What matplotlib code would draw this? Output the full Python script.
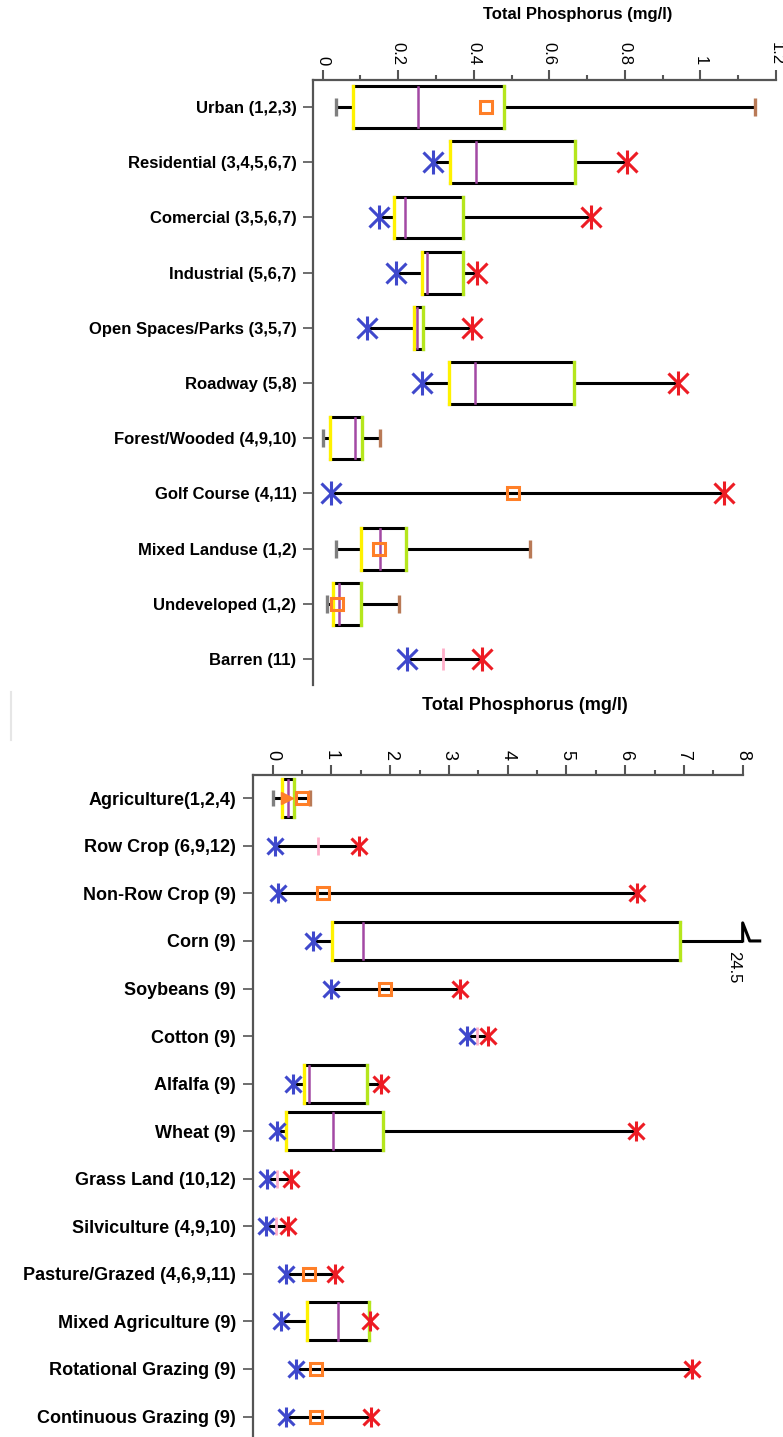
import numpy as np
import matplotlib
matplotlib.use('Agg')
import matplotlib.pyplot as plt
from matplotlib.patches import Rectangle
from matplotlib.lines import Line2D

plt.rcParams['font.family'] = ['Liberation Sans', 'DejaVu Sans']

nan = np.nan

# ---- top panel : urban / land use ----
labels_top = ['Urban (1,2,3)', 'Residential (3,4,5,6,7)', 'Comercial (3,5,6,7)',
              'Industrial (5,6,7)', 'Open Spaces/Parks (3,5,7)', 'Roadway (5,8)',
              'Forest/Wooded (4,9,10)', 'Golf Course (4,11)', 'Mixed Landuse (1,2)',
              'Undeveloped (1,2)', 'Barren (11)']
lo_top = [0.035, 0.293, 0.150, 0.193, 0.116, 0.264, 0.0, 0.022, 0.035, 0.011, 0.222]
lo_kind_top = ['cap', 'star', 'star', 'star', 'star', 'star', 'cap', 'star', 'cap', 'cap', 'star']
q1_top = [0.081, 0.338, 0.190, 0.262, 0.242, 0.335, 0.019, nan, 0.102, 0.028, nan]
med_top = [0.253, 0.406, 0.219, 0.275, 0.250, 0.403, 0.085, nan, 0.152, 0.044, 0.319]
q3_top = [0.480, 0.668, 0.371, 0.371, 0.265, 0.666, 0.104, nan, 0.220, 0.102, nan]
hi_top = [1.144, 0.805, 0.710, 0.408, 0.394, 0.940, 0.152, 1.062, 0.549, 0.201, 0.421]
hi_kind_top = ['cap', 'star', 'star', 'star', 'star', 'star', 'cap', 'star', 'cap', 'cap', 'star']
mean_top = [0.431, nan, nan, nan, nan, nan, nan, 0.503, 0.150, 0.037, nan]
tri_top = [nan] * 11
ticks_top = [0, 0.2, 0.4, 0.6, 0.8, 1, 1.2]
ticklabels_top = ['0', '0.2', '0.4', '0.6', '0.8', '1', '1.2']

# ---- bottom panel : agriculture ----
labels_bot = ['Agriculture(1,2,4)', 'Row Crop (6,9,12)', 'Non-Row Crop (9)', 'Corn (9)',
              'Soybeans (9)', 'Cotton (9)', 'Alfalfa (9)', 'Wheat (9)', 'Grass Land (10,12)',
              'Silviculture (4,9,10)', 'Pasture/Grazed (4,6,9,11)', 'Mixed Agriculture (9)',
              'Rotational Grazing (9)', 'Continuous Grazing (9)']
lo_bot = [0.0, 0.04, 0.096, 0.692, 0.992, 3.302, 0.351, 0.078, -0.09, -0.12, 0.221, 0.141, 0.397, 0.221]
lo_kind_bot = ['cap'] + ['star'] * 13
q1_bot = [0.153, nan, nan, 1.004, nan, nan, 0.538, 0.226, nan, nan, nan, 0.589, nan, nan]
med_bot = [0.255, 0.777, nan, 1.543, nan, 3.472, 0.618, 1.031, 0.078, 0.051, nan, 1.106, nan, nan]
q3_bot = [0.368, nan, nan, 6.933, nan, nan, 1.600, 1.872, nan, nan, nan, 1.645, nan, nan]
hi_bot = [0.635, 1.47, 6.196, 24.5, 3.188, 3.66, 1.843, 6.184, 0.306, 0.266, 1.06, 1.656, 7.142, 1.673]
hi_kind_bot = ['cap', 'star', 'star', 'break'] + ['star'] * 10
mean_bot = [0.493, nan, 0.85, nan, 1.911, nan, nan, nan, nan, nan, 0.618, nan, 0.732, 0.732]
tri_bot = [0.25] + [nan] * 13
ticks_bot = [0, 1, 2, 3, 4, 5, 6, 7, 8]
ticklabels_bot = ['0', '1', '2', '3', '4', '5', '6', '7', '8']

BLUE = '#3f48cc'
RED = '#ed1c24'
ORANGE = '#ff7f27'
GREY = '#7f7f7f'
BROWN = '#b97a57'
PINK = '#ffaec9'
PURPLE = '#a349a4'
YELLOW = '#fff200'
LIME = '#b5e61d'
AXC = '#555555'


def star(ax, x, y, color, ms):
    ax.plot(x, y, marker='x', color=color, ms=ms, mew=2.2, zorder=7, clip_on=False)
    ax.plot(x, y, marker='|', color=color, ms=ms * 1.25, mew=2.2, zorder=7, clip_on=False)


def draw_panel(ax, labels, lo, lo_kind, q1, med, q3, hi, hi_kind, mean, tri, box_h, ms):
    xmax = ax.get_xlim()[1]
    for i in range(len(labels)):
        y = i
        right = min(hi[i], xmax)
        ax.plot([lo[i], right], [y, y], color='black', lw=2.2, zorder=2, solid_capstyle='butt')
        if not np.isnan(q1[i]):
            y0, y1 = y - box_h / 2, y + box_h / 2
            ax.add_patch(Rectangle((q1[i], y0), q3[i] - q1[i], box_h,
                                   facecolor='white', edgecolor='none', zorder=3))
            ax.plot([q1[i], q3[i]], [y0, y0], color='black', lw=2.2, zorder=4)
            ax.plot([q1[i], q3[i]], [y1, y1], color='black', lw=2.2, zorder=4)
            ax.plot([q1[i], q1[i]], [y0, y1], color=YELLOW, lw=2.4, zorder=5)
            ax.plot([q3[i], q3[i]], [y0, y1], color=LIME, lw=2.4, zorder=5)
            ax.plot([med[i], med[i]], [y0 + 0.02, y1 - 0.02], color=PURPLE, lw=1.8, zorder=5)
        elif not np.isnan(med[i]):
            ax.plot(med[i], y, marker='|', color=PINK, ms=ms * 1.1, mew=2, zorder=5)

        if lo_kind[i] == 'cap':
            ax.plot(lo[i], y, marker='|', color=GREY, ms=ms * 0.95, mew=2.4, zorder=6)
        else:
            star(ax, lo[i], y, BLUE, ms)

        if hi_kind[i] == 'cap':
            ax.plot(hi[i], y, marker='|', color=BROWN, ms=ms * 0.95, mew=2.4, zorder=6)
        elif hi_kind[i] == 'star':
            star(ax, hi[i], y, RED, ms)
        else:
            # axis break for the value off the scale
            ax.plot([xmax, xmax, xmax + 0.12, xmax + 0.29], [y, y - 0.38, y, y],
                    color='black', lw=2.2, clip_on=False, zorder=2)
            ax.text(xmax - 0.16, y + 0.22, '%g' % hi[i], rotation=-90, ha='center', va='top',
                    fontsize=12)

        if not np.isnan(mean[i]):
            ax.plot(mean[i], y, marker='s', mfc='none', mec=ORANGE, ms=8, mew=2.2, zorder=6)
        if not np.isnan(tri[i]):
            ax.plot(tri[i], y, marker='>', color=ORANGE, ms=ms * 0.7, zorder=6)


def style_axes(ax, ticks, ticklabels, minor, labels, fs_tick, fs_lab):
    ax.xaxis.tick_top()
    ax.set_xticks(ticks)
    ax.set_xticklabels(ticklabels)
    ax.set_xticks(minor, minor=True)
    ax.set_yticks(np.arange(len(labels)))
    ax.set_yticklabels(labels, fontweight='bold', fontsize=fs_lab)
    ax.tick_params(axis='x', which='major', length=7, width=1.5, color=AXC, labelsize=fs_tick,
                   pad=4, labelrotation=-90)
    ax.tick_params(axis='x', which='minor', length=3.5, width=1.5, color=AXC)
    ax.tick_params(axis='y', length=7, width=1.2, color=AXC, pad=5)
    for s in ['right', 'bottom']:
        ax.spines[s].set_visible(False)
    for s in ['top', 'left']:
        ax.spines[s].set_color(AXC)
        ax.spines[s].set_linewidth(1.6)


fig = plt.figure(figsize=(7.83, 14.37), dpi=100)

ax1 = fig.add_axes([0.4001, 0.5233, 0.5909, 0.4210])
ax1.set_xlim(-0.025, 1.2)
ax1.set_ylim(10.47, -0.49)
draw_panel(ax1, labels_top, lo_top, lo_kind_top, q1_top, med_top, q3_top, hi_top, hi_kind_top,
           mean_top, tri_top, 0.76, 14)
style_axes(ax1, ticks_top, ticklabels_top, np.arange(0, 1.21, 0.1), labels_top, 12, 12)
fig.text(578 / 783, 1 - 15 / 1437, 'Total Phosphorus (mg/l)', ha='center', va='center',
         fontsize=12, fontweight='bold')

ax2 = fig.add_axes([0.3227, 0.0, 0.6258, 0.4607])
ax2.set_xlim(-0.34, 8.0)
ax2.set_ylim(13.43, -0.49)
draw_panel(ax2, labels_bot, lo_bot, lo_kind_bot, q1_bot, med_bot, q3_bot, hi_bot, hi_kind_bot,
           mean_bot, tri_bot, 0.8, 12)
style_axes(ax2, ticks_bot, ticklabels_bot, np.arange(0, 8.01, 0.5), labels_bot, 13, 13)
fig.text(525 / 783, 1 - 705 / 1437, 'Total Phosphorus (mg/l)', ha='center', va='center',
         fontsize=13, fontweight='bold')

# faint seam left over from the pasted screenshot
fig.add_artist(Line2D([11 / 783, 11 / 783], [1 - 692 / 1437, 1 - 740 / 1437], color='#e6e6e6', lw=1.5))

fig.savefig('out.png', dpi=100)
